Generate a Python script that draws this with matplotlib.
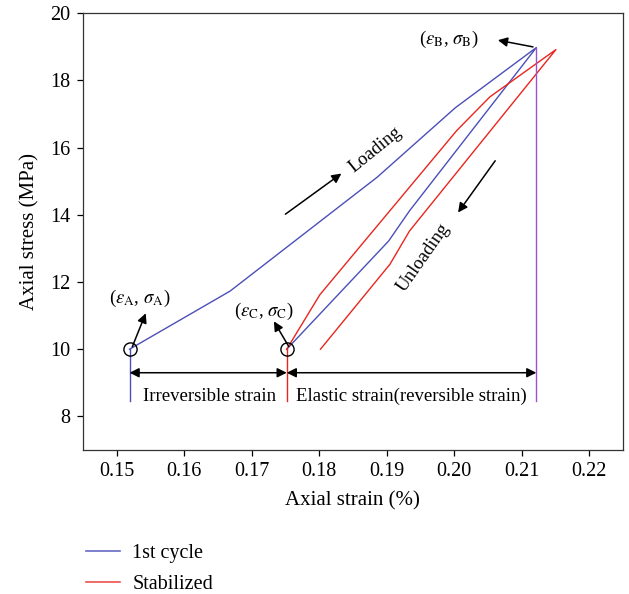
import matplotlib
matplotlib.use("Agg")
import matplotlib.pyplot as plt
from matplotlib.lines import Line2D

plt.rcParams['font.family'] = ['Liberation Serif', 'DejaVu Serif']
plt.rcParams['mathtext.fontset'] = 'stix'

# Data
first_strain = [0.1519, 0.1668, 0.1886, 0.2002, 0.2122, 0.1934, 0.1903, 0.1752]
first_stress = [10.0, 11.73, 15.12, 17.19, 18.98, 14.12, 13.22, 10.0]
stab_strain = [0.1752, 0.1801, 0.2004, 0.2053, 0.2151, 0.1934, 0.1905, 0.1802]
stab_stress = [10.0, 11.62, 16.51, 17.51, 18.92, 13.52, 12.53, 10.0]

eps_A, eps_C, eps_B = 0.1519, 0.1752, 0.2122
sig_A, sig_C, sig_B = 10.0, 10.0, 18.98
vline_bottom = 8.45
arrow_y = 9.3

xticks = [0.15, 0.16, 0.17, 0.18, 0.19, 0.20, 0.21, 0.22]
xticklabels = ['0.15', '0.16', '0.17', '0.18', '0.19', '0.20', '0.21', '0.22']
yticks = [8, 10, 12, 14, 16, 18, 20]

blue = '#4b4fb8'
red = '#e8261e'
purple = '#9a52d0'

fig = plt.figure(figsize=(6.29, 5.94), dpi=100)
ax = fig.add_axes([83/629, 1-450/594, (622.7-83)/629, (450-13.3)/594])

ax.plot(first_strain, first_stress, color=blue, lw=1.0)
ax.plot(stab_strain, stab_stress, color=red, lw=1.0)

# vertical lines
ax.plot([eps_A, eps_A], [vline_bottom, sig_A], color=blue, lw=1.0)
ax.plot([eps_C, eps_C], [vline_bottom, sig_C], color=red, lw=1.0)
ax.plot([eps_B, eps_B], [vline_bottom, sig_B], color=purple, lw=1.0)

# circles
ax.plot([eps_A, eps_C], [sig_A, sig_C], 'o', mfc='none', mec='k', ms=9.5, mew=1.0)

ap = dict(arrowstyle='-|>', color='k', lw=1.1, mutation_scale=14, shrinkA=0, shrinkB=0)
dap = dict(arrowstyle='<|-|>', color='k', lw=1.1, mutation_scale=14, shrinkA=0, shrinkB=0)

fs = 13.5
# double arrows
ax.annotate('', xy=(eps_A, arrow_y), xytext=(eps_C, arrow_y), arrowprops=dap)
ax.annotate('', xy=(eps_C, arrow_y), xytext=(eps_B, arrow_y), arrowprops=dap)
ax.text(0.1638, 8.6, 'Irreversible strain', ha='center', va='center', fontsize=fs)
ax.text(0.1937, 8.6, 'Elastic strain(reversible strain)', ha='center', va='center', fontsize=fs)

# point annotations
ax.annotate('', xy=(0.1543, 11.07), xytext=(0.1523, 10.07), arrowprops=ap)
ax.text(0.1534, 11.5, r'($\varepsilon_{\mathrm{A}}$, $\sigma_{\mathrm{A}}$)', ha='center', va='center', fontsize=fs)
ax.annotate('', xy=(0.1733, 10.83), xytext=(0.1755, 10.08), arrowprops=ap)
ax.text(0.1719, 11.12, r'($\varepsilon_{\mathrm{C}}$, $\sigma_{\mathrm{C}}$)', ha='center', va='center', fontsize=fs)
ax.annotate('', xy=(0.2065, 19.2), xytext=(0.2117, 19.0), arrowprops=ap)
ax.text(0.1993, 19.22, r'($\varepsilon_{\mathrm{B}}$, $\sigma_{\mathrm{B}}$)', ha='center', va='center', fontsize=fs)

# loading / unloading
ax.annotate('', xy=(0.1833, 15.23), xytext=(0.1750, 14.02), arrowprops=ap)
ax.text(0.1883, 15.95, 'Loading', ha='center', va='center', rotation=39, fontsize=fs)
ax.annotate('', xy=(0.2006, 14.07), xytext=(0.2061, 15.61), arrowprops=ap)
ax.text(0.1955, 12.72, 'Unloading', ha='center', va='center', rotation=55, fontsize=fs)

ax.set_xlim(0.145, 0.225)
ax.set_ylim(7.0, 20.0)
ax.set_xticks(xticks)
ax.set_xticklabels(xticklabels)
ax.set_yticks(yticks)
ax.tick_params(direction='out', length=4, width=0.9, labelsize=14.5, pad=5)
for s in ax.spines.values():
    s.set_linewidth(0.9)
    s.set_color('#333333')
ax.set_xlabel('Axial strain (%)', fontsize=15, labelpad=7)
ax.set_ylabel('Axial stress (MPa)', fontsize=15, labelpad=8)

handles = [Line2D([], [], color=blue, lw=1.2, alpha=0.85),
           Line2D([], [], color=red, lw=1.2, alpha=0.8)]
fig.legend(handles, ['1st cycle', 'Stabilized'], loc='upper left',
           bbox_to_anchor=(68/629, 1-526/594), frameon=False, fontsize=14.5,
           handlelength=1.7, handletextpad=0.6, labelspacing=0.6)

fig.savefig('out.png', dpi=100)
